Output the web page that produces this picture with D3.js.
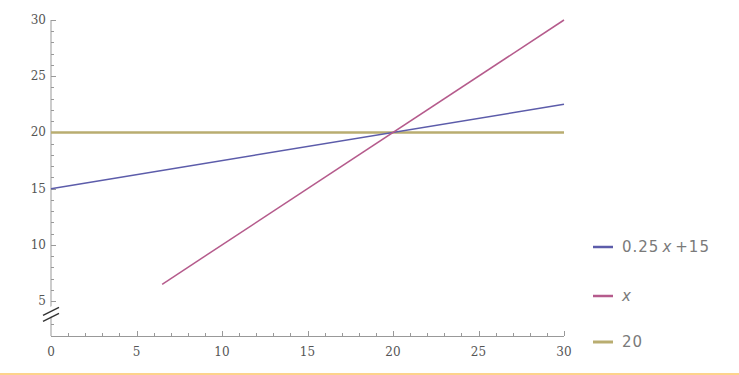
<!DOCTYPE html>
<html>
<head>
<meta charset="utf-8">
<script src="https://cdn.jsdelivr.net/npm/d3@7"></script>
<style>
  body { margin: 0; background: #fff; }
  svg { display: block; }
  .tick-label { font-family: "DejaVu Serif", "Liberation Serif", serif; font-size: 12px; fill: #555; }
  .legend-label { font-family: "DejaVu Sans", sans-serif; font-size: 15px; fill: #7a7a7a; letter-spacing: 1px; }
</style>
</head>
<body>
<svg id="chart" width="739" height="375"></svg>
<script>
// series
var seriesNames = ["0.25 x +15", "x", "20"];
var blueX = [0, 30],   blueY = [15, 22.5];
var pinkX = [6.5, 30], pinkY = [6.5, 30];
var oliveX = [0, 30],  oliveY = [20, 20];

var xTicks = [0, 5, 10, 15, 20, 25, 30];
var yTicks = [5, 10, 15, 20, 25, 30];

var svg = d3.select("#chart");

var x = d3.scaleLinear().domain([0, 30]).range([51, 564]);
var y = d3.scaleLinear().domain([1.9, 30]).range([336, 20]);

var axisColor = "#999";

// y axis line + ticks (ticks point into the plot)
svg.append("line")
  .attr("x1", x(0)).attr("x2", x(0))
  .attr("y1", y(30)).attr("y2", y(1.9))
  .style("stroke", axisColor).style("stroke-width", 1);

var yMinor = d3.range(3, 31);
svg.selectAll(".ytick")
  .data(yMinor)
  .enter()
  .append("line")
  .attr("class", "ytick")
  .attr("x1", x(0))
  .attr("x2", function(d) { return x(0) + (d % 5 === 0 ? 5 : 3); })
  .attr("y1", function(d) { return Math.round(y(d)) + 0.5; })
  .attr("y2", function(d) { return Math.round(y(d)) + 0.5; })
  .style("stroke", axisColor).style("stroke-width", 1);

svg.selectAll(".ylabel")
  .data(yTicks)
  .enter()
  .append("text")
  .attr("class", "tick-label")
  .attr("x", x(0) - 5)
  .attr("y", function(d) { return y(d) + 4; })
  .attr("text-anchor", "end")
  .text(function(d) { return d; });

// x axis line + ticks (pointing up)
svg.append("line")
  .attr("x1", x(0)).attr("x2", x(30))
  .attr("y1", y(1.9) + 0.5).attr("y2", y(1.9) + 0.5)
  .style("stroke", axisColor).style("stroke-width", 1);

var xMinor = d3.range(1, 31);
svg.selectAll(".xtick")
  .data(xMinor)
  .enter()
  .append("line")
  .attr("class", "xtick")
  .attr("x1", function(d) { return Math.round(x(d)) + 0.5; })
  .attr("x2", function(d) { return Math.round(x(d)) + 0.5; })
  .attr("y1", y(1.9))
  .attr("y2", function(d) { return y(1.9) - (d % 5 === 0 ? 5 : 3); })
  .style("stroke", axisColor).style("stroke-width", 1);

svg.selectAll(".xlabel")
  .data(xTicks)
  .enter()
  .append("text")
  .attr("class", "tick-label")
  .attr("x", function(d) { return x(d); })
  .attr("y", y(1.9) + 20)
  .attr("text-anchor", "middle")
  .text(function(d) { return d; });

// axis break marker
var bx = x(0), by = y(4.0);
svg.append("polygon")
  .attr("points", [[bx - 9, by + 8], [bx + 9, by], [bx + 9, by - 10], [bx - 9, by - 2]].join(" "))
  .style("fill", "#fff");
[-1, 5].forEach(function(off) {
  svg.append("line")
    .attr("x1", bx - 8).attr("y1", by + off + 4)
    .attr("x2", bx + 8).attr("y2", by + off - 4)
    .style("stroke", "#333").style("stroke-width", 1.4);
});

// series lines
var line = d3.line()
  .x(function(d) { return x(d[0]); })
  .y(function(d) { return y(d[1]); });

var series = [
  { xs: oliveX, ys: oliveY, color: "#b9ad70", width: 2.6 },
  { xs: blueX,  ys: blueY,  color: "#5c5caa", width: 1.5 },
  { xs: pinkX,  ys: pinkY,  color: "#b55b8c", width: 1.5 }
];

svg.selectAll(".series")
  .data(series)
  .enter()
  .append("path")
  .attr("class", "series")
  .attr("d", function(s) { return line(d3.zip(s.xs, s.ys)); })
  .style("fill", "none")
  .style("stroke", function(s) { return s.color; })
  .style("stroke-width", function(s) { return s.width; });

// legend
var legendColors = ["#5c5caa", "#b55b8c", "#b9ad70"];
var legendY = [247, 296, 342];
var lg = svg.selectAll(".legend")
  .data(seriesNames)
  .enter()
  .append("g")
  .attr("class", "legend")
  .attr("transform", function(d, i) { return "translate(593," + legendY[i] + ")"; });

lg.append("line")
  .attr("x1", 0).attr("x2", 20)
  .attr("y1", 0).attr("y2", 0)
  .style("stroke", function(d, i) { return legendColors[i]; })
  .style("stroke-width", function(d, i) { return i === 2 ? 3 : 2.5; });

var lt = lg.append("text")
  .attr("class", "legend-label")
  .attr("x", 29)
  .attr("y", 5);

lt.each(function(d) {
  var t = d3.select(this);
  d.split(" ").forEach(function(part, j) {
    var ts = t.append("tspan").text(part);
    if (j > 0) ts.attr("dx", 3);
    if (part === "x") ts.style("font-style", "italic");
  });
});

// thin orange rule at the bottom
svg.append("line")
  .attr("x1", 0).attr("x2", 739)
  .attr("y1", 374).attr("y2", 374)
  .style("stroke", "#fdd38c").style("stroke-width", 2);
</script>
</body>
</html>
